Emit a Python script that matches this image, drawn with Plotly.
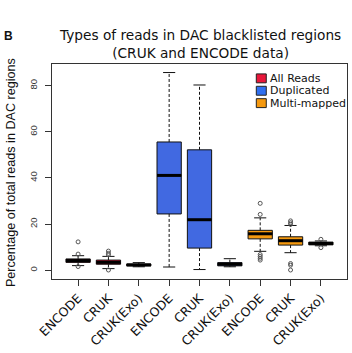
import plotly.graph_objects as go

# ---- data ----
tick_labels = ["ENCODE", "CRUK", "CRUK(Exo)", "ENCODE", "CRUK", "CRUK(Exo)", "ENCODE", "CRUK", "CRUK(Exo)"]
groups = ["All Reads", "Duplicated", "Multi-mapped"]

all_pos = [1, 2, 3]
all_lw = [2.0, 0.7, 1.5]
all_q1 = [3.4, 2.6, 1.9]
all_med = [4.2, 3.4, 2.3]
all_q3 = [4.9, 4.4, 2.7]
all_uw = [6.3, 6.0, 3.3]
all_out_x = [1, 1, 1, 2, 2, 2, 2]
all_out_y = [12.3, 7.0, 1.6, 8.3, 7.3, 6.7, 0.1]

dup_pos = [4, 5, 6]
dup_lw = [1.4, 0.3, 1.5]
dup_q1 = [24.4, 9.6, 1.9]
dup_med = [41.1, 21.9, 2.6]
dup_q3 = [55.6, 52.2, 3.3]
dup_uw = [85.7, 80.3, 5.0]
dup_out_x = []
dup_out_y = []

mm_pos = [7, 8, 9]
mm_lw = [8.2, 7.6, 10.6]
mm_q1 = [13.6, 10.9, 11.0]
mm_med = [15.8, 12.8, 11.6]
mm_q3 = [17.3, 14.5, 12.2]
mm_uw = [22.7, 19.4, 12.7]
mm_out_x = [7, 7, 7, 7, 7, 7, 8, 8, 8, 8, 8, 8, 9, 9]
mm_out_y = [29.0, 24.2, 6.8, 6.0, 5.2, 4.4, 21.4, 20.6, 19.9, 2.9, 2.2, 0.1, 13.4, 9.8]

colors = ["#E8173A", "#4169E1", "#F5990F"]
legend_colors = ["#E8173A", "#2F6FF0", "#F5990F"]

# ---- layout geometry ----
W, H = 352, 353
L, R, T, B = 52, 4, 64, 72
PW, PH = W - L - R, H - T - B
box_w = 0.8

fig = go.Figure()

series = [
    (all_pos, all_lw, all_q1, all_med, all_q3, all_uw, all_out_x, all_out_y),
    (dup_pos, dup_lw, dup_q1, dup_med, dup_q3, dup_uw, dup_out_x, dup_out_y),
    (mm_pos, mm_lw, mm_q1, mm_med, mm_q3, mm_uw, mm_out_x, mm_out_y),
]

for gi, (pos, lw, q1, med, q3, uw, ox, oy) in enumerate(series):
    # dashed whiskers
    wx, wy = [], []
    for p, a, b_, c, d in zip(pos, lw, q1, q3, uw):
        wx += [p, p, None, p, p, None]
        wy += [c, d, None, b_, a, None]
    fig.add_trace(go.Scatter(x=wx, y=wy, mode="lines", showlegend=False, hoverinfo="skip",
                             line=dict(color="#111", width=1, dash="3px,2px")))
    # staples
    sx, sy = [], []
    for p, a, d in zip(pos, lw, uw):
        sx += [p - box_w / 4, p + box_w / 4, None, p - box_w / 4, p + box_w / 4, None]
        sy += [d, d, None, a, a, None]
    fig.add_trace(go.Scatter(x=sx, y=sy, mode="lines", showlegend=False, hoverinfo="skip",
                             line=dict(color="#111", width=1)))
    # boxes
    fig.add_trace(go.Box(x=pos, q1=q1, median=med, q3=q3, lowerfence=q1, upperfence=q3,
                         width=box_w, whiskerwidth=0, fillcolor=colors[gi],
                         line=dict(color="#111", width=1), name=groups[gi],
                         showlegend=False, boxpoints=False))
    # thick medians
    mx, my = [], []
    for p, m in zip(pos, med):
        mx += [p - box_w / 2, p + box_w / 2, None]
        my += [m, m, None]
    fig.add_trace(go.Scatter(x=mx, y=my, mode="lines", showlegend=False, hoverinfo="skip",
                             line=dict(color="#000", width=3)))
    # outliers
    if ox:
        fig.add_trace(go.Scatter(x=ox, y=oy, mode="markers", showlegend=False, hoverinfo="skip",
                                 marker=dict(symbol="circle-open", size=4, color="#555",
                                             line=dict(width=1))))

# ---- manual legend ----
def px_x(px):
    return (px - L) / PW

def px_y(py):
    return (H - B - py) / PH

shapes = []
annotations = []
leg_rows = [78.5, 91, 103.5]
for i, g in enumerate(groups):
    cy = leg_rows[i]
    shapes.append(dict(type="rect", xref="paper", yref="paper",
                       x0=px_x(257), x1=px_x(267), y0=px_y(cy + 4.5), y1=px_y(cy - 4.5),
                       fillcolor=legend_colors[i], line=dict(color="#222", width=1)))
    annotations.append(dict(text=g, xref="paper", yref="paper", x=px_x(268.5), y=px_y(cy),
                            xanchor="left", yanchor="middle", showarrow=False,
                            font=dict(family="DejaVu Sans", size=11, color="#111")))

# title
annotations.append(dict(text="Types of reads in DAC blacklisted regions<br>(CRUK and ENCODE data)",
                        xref="paper", yref="paper", x=0.5, y=px_y(25), xanchor="center", yanchor="top",
                        showarrow=False, font=dict(family="DejaVu Sans", size=13.7, color="#111")))
# panel letter
annotations.append(dict(text="<b>B</b>", xref="paper", yref="paper", x=px_x(2), y=px_y(36),
                        xanchor="left", yanchor="middle", showarrow=False,
                        font=dict(family="Liberation Sans", size=12, color="#111")))
# y title
annotations.append(dict(text="Percentage of total reads in DAC regions", xref="paper", yref="paper",
                        x=px_x(11), y=px_y(174), xanchor="center", yanchor="middle",
                        textangle=-90, showarrow=False,
                        font=dict(family="Liberation Sans", size=12.6, color="#111")))

fig.update_layout(
    width=W, height=H,
    margin=dict(l=L, r=R, t=T, b=B, pad=0),
    paper_bgcolor="white", plot_bgcolor="white",
    boxmode="overlay",
    showlegend=False,
    shapes=shapes, annotations=annotations,
    xaxis=dict(range=[0.14, 9.86], tickmode="array", tickvals=list(range(1, 10)), ticktext=tick_labels,
               tickangle=-45, ticks="outside", ticklen=6, tickcolor="#333",
               showline=True, linecolor="#333", linewidth=1, mirror=True,
               showgrid=False, zeroline=False,
               tickfont=dict(family="DejaVu Sans", size=12.5, color="#111")),
    yaxis=dict(range=[-3.8, 89.4], tickmode="array", tickvals=[0, 20, 40, 60, 80],
               tickangle=-90, ticks="outside", ticklen=6, tickcolor="#333",
               showline=True, linecolor="#333", linewidth=1, mirror=True,
               showgrid=False, zeroline=False, ticklabelstandoff=4,
               tickfont=dict(family="Liberation Sans", size=9.5, color="#333")),
)

fig.write_html("out.html")
